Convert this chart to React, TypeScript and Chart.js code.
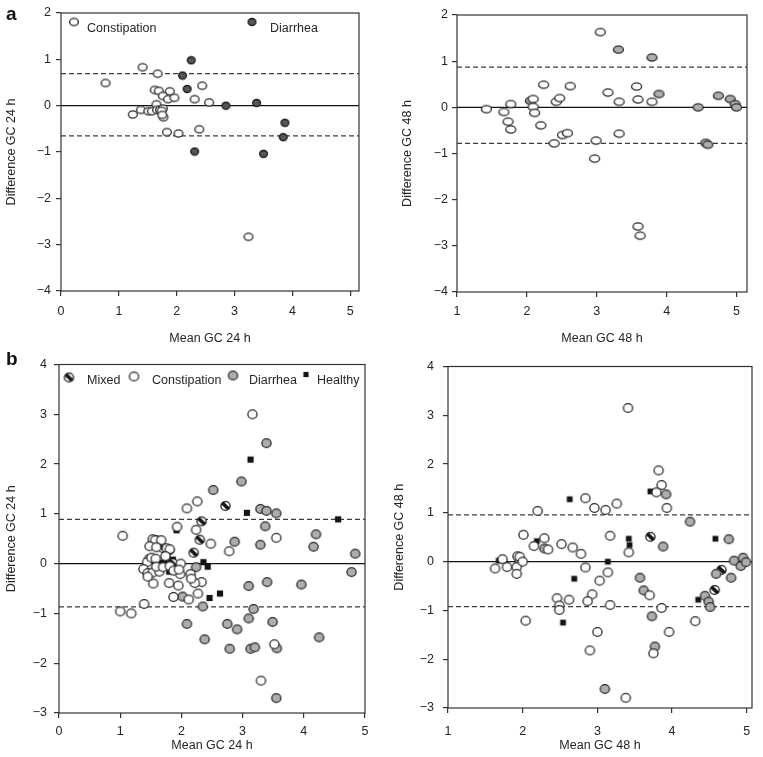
import React, { useEffect, useRef } from 'react';
import { Chart, registerables } from 'chart.js';
Chart.register(...registerables);

type Pt = [number, number];

// ---- tick labels ----
const xTicks24 = [0, 1, 2, 3, 4, 5];
const xTicks48 = [1, 2, 3, 4, 5];
const yTicksA = [-4, -3, -2, -1, 0, 1, 2];
const yTicksB = [-3, -2, -1, 0, 1, 2, 3, 4];

// ---- panel a, 24 h ----
const a24Constipation: Pt[] = [
  [0.77, 0.49], [1.41, 0.83], [1.67, 0.69], [1.62, 0.34], [1.69, 0.32], [1.88, 0.31], [1.76, 0.21],
  [1.85, 0.14], [1.96, 0.17], [2.31, 0.14], [2.44, 0.43], [2.56, 0.07], [1.65, 0.03], [1.24, -0.19],
  [1.38, -0.09], [1.51, -0.12], [1.57, -0.12], [1.66, -0.09], [1.71, -0.09], [1.76, -0.06], [1.74, -0.11],
  [1.77, -0.25], [1.75, -0.2], [1.83, -0.57], [2.03, -0.6], [2.39, -0.51], [3.24, -2.83],
];
const a24Diarrhea: Pt[] = [
  [2.25, 0.98], [2.1, 0.65], [2.18, 0.36], [2.85, 0.0], [3.38, 0.06], [3.87, -0.37], [3.84, -0.68],
  [2.31, -0.99], [3.5, -1.04],
];
const a24Limits = [0.69, -0.65];

// ---- panel a, 48 h ----
const a48Constipation: Pt[] = [
  [1.42, -0.04], [1.67, -0.1], [1.77, 0.07], [1.73, -0.31], [1.77, -0.48], [2.09, 0.18], [2.09, 0.01],
  [2.11, -0.12], [2.2, -0.39], [2.24, 0.49], [2.42, 0.12], [2.47, 0.2], [2.62, 0.46], [2.39, -0.78],
  [2.51, -0.6], [2.58, -0.56], [2.99, -0.72], [2.97, -1.11], [3.05, 1.63], [3.16, 0.32], [3.32, 0.12],
  [3.32, -0.57], [3.57, 0.45], [3.59, 0.17], [3.79, 0.12], [3.59, -2.58], [3.62, -2.78],
];
const a48Diarrhea: Pt[] = [
  [2.05, 0.14], [3.31, 1.25], [3.79, 1.08], [3.89, 0.29], [4.45, 0.0], [4.74, 0.25], [4.91, 0.18],
  [4.98, 0.07], [5.0, 0.0], [4.56, -0.77], [4.59, -0.81],
];
const a48Limits = [0.87, -0.78];

// ---- panel b, 24 h ----
const b24Constipation: Pt[] = [
  [3.16, 3.0], [2.26, 1.25], [2.09, 1.11], [1.93, 0.74], [2.24, 0.68], [1.04, 0.56], [2.48, 0.4],
  [2.78, 0.25], [3.55, 0.52], [1.0, -0.96], [1.18, -1.0], [1.39, -0.81], [1.54, -0.4], [1.8, -0.39],
  [1.87, -0.67], [1.95, -0.44], [2.12, -0.72], [2.27, -0.6], [2.33, -0.37], [2.22, -0.39], [2.15, -0.21],
  [2.16, -0.3], [1.99, 0.0], [1.98, -0.21], [3.3, -2.35], [3.52, -1.62], [1.53, 0.49], [1.57, 0.47],
  [1.67, 0.47], [1.48, 0.35], [1.59, 0.33], [1.76, 0.31], [1.81, 0.29], [1.47, 0.09], [1.44, 0.03],
  [1.51, 0.12], [1.58, 0.1], [1.38, -0.11], [1.45, -0.19], [1.53, -0.18], [1.64, -0.16], [1.59, -0.06],
  [1.7, -0.07], [1.81, -0.05], [1.87, -0.14], [1.96, -0.12], [1.45, -0.26], [1.74, 0.15],
];
const b24Diarrhea: Pt[] = [
  [3.39, 2.42], [2.98, 1.65], [2.52, 1.48], [3.29, 1.1], [3.39, 1.06], [3.55, 1.01], [3.37, 0.75],
  [2.87, 0.44], [3.29, 0.38], [4.2, 0.59], [4.16, 0.34], [4.84, 0.2], [4.78, -0.17], [3.96, -0.42],
  [3.4, -0.37], [3.1, -0.45], [2.24, -0.07], [2.02, -0.66], [2.35, -0.86], [3.18, -0.91], [3.1, -1.1],
  [3.49, -1.17], [2.09, -1.21], [2.75, -1.21], [2.91, -1.32], [2.38, -1.52], [4.25, -1.48], [2.79, -1.71],
  [3.13, -1.71], [3.2, -1.68], [3.56, -1.7], [3.55, -2.7],
];
const b24Mixed: Pt[] = [
  [2.72, 1.16], [2.33, 0.85], [2.3, 0.48], [2.2, 0.22], [1.59, 0.47], [1.7, 0.31], [1.8, 0.27], [1.86, 0.01],
];
const b24Healthy: Pt[] = [
  [3.13, 2.09], [3.07, 1.02], [4.56, 0.89], [1.92, 0.67], [2.36, 0.03], [2.43, -0.06], [2.63, -0.6],
  [2.46, -0.69], [1.59, -0.03], [1.68, 0.02], [1.75, 0.04], [1.86, 0.08], [1.8, -0.16], [1.66, 0.38],
  [1.73, 0.28],
];
const b24Limits = [0.89, -0.87];

// ---- panel b, 48 h ----
const b48Constipation: Pt[] = [
  [3.41, 3.15], [3.82, 1.87], [3.86, 1.57], [3.79, 1.42], [3.93, 1.1], [2.84, 1.3], [2.96, 1.1],
  [3.11, 1.06], [3.26, 1.19], [2.2, 1.04], [2.01, 0.55], [2.15, 0.32], [2.29, 0.48], [2.34, 0.25],
  [2.52, 0.36], [2.67, 0.29], [2.78, 0.16], [3.17, 0.53], [3.42, 0.19], [1.73, 0.05], [1.63, -0.14],
  [1.79, -0.11], [1.93, 0.11], [1.96, 0.1], [1.92, -0.11], [1.92, -0.25], [2.0, 0.0], [2.84, -0.12],
  [3.14, -0.22], [3.03, -0.39], [2.93, -0.67], [2.87, -0.81], [3.17, -0.89], [2.62, -0.78], [2.46, -0.75],
  [2.49, -0.9], [2.49, -0.99], [2.04, -1.21], [3.0, -1.44], [2.9, -1.82], [3.7, -0.69], [3.86, -0.95],
  [3.96, -1.44], [3.75, -1.88], [4.31, -1.22], [3.38, -2.79],
];
const b48Diarrhea: Pt[] = [
  [3.92, 1.38], [4.24, 0.82], [3.88, 0.31], [2.29, 0.27], [4.76, 0.46], [4.83, 0.02], [4.95, 0.08],
  [4.92, -0.09], [4.99, -0.01], [4.59, -0.25], [4.79, -0.33], [3.57, -0.33], [3.62, -0.59], [3.73, -1.12],
  [3.77, -1.74], [3.1, -2.61], [4.44, -0.7], [4.49, -0.82], [4.51, -0.93],
];
const b48Mixed: Pt[] = [[3.71, 0.51], [4.66, -0.17], [4.57, -0.58], [1.96, 0.02]];
const b48Healthy: Pt[] = [
  [1.68, 0.02], [2.19, 0.42], [2.63, 1.28], [2.69, -0.35], [2.54, -1.25], [3.14, 0.0], [3.42, 0.47],
  [3.43, 0.34], [3.71, 1.44], [4.58, 0.47], [4.35, -0.78],
];
const b48Limits = [0.96, -0.92];

// ---- rendering ----
type Kind = 'open' | 'dark' | 'grey' | 'mixed' | 'square';
const FONT = '"Liberation Sans", Arial, Helvetica, sans-serif';
const TEXT = '#262626';

function makeMarker(kind: Kind, rx: number, ry: number): HTMLCanvasElement {
  const c = document.createElement('canvas');
  const w = Math.ceil(rx * 2 + 3);
  const h = Math.ceil(ry * 2 + 3);
  c.width = w;
  c.height = h;
  const g = c.getContext('2d')!;
  const cx = w / 2;
  const cy = h / 2;
  if (kind === 'square') {
    g.fillStyle = '#141414';
    g.fillRect(cx - rx, cy - ry, rx * 2, ry * 2);
    return c;
  }
  g.beginPath();
  g.ellipse(cx, cy, rx, ry, 0, 0, Math.PI * 2);
  g.fillStyle = kind === 'dark' ? '#575757' : kind === 'grey' ? '#adadad' : '#ffffff';
  g.fill();
  if (kind === 'mixed') {
    g.save();
    g.clip();
    g.strokeStyle = '#141414';
    g.lineWidth = 3.6;
    g.beginPath();
    g.moveTo(cx - rx, cy - ry);
    g.lineTo(cx + rx, cy + ry);
    g.stroke();
    g.restore();
  }
  g.beginPath();
  g.ellipse(cx, cy, rx, ry, 0, 0, Math.PI * 2);
  g.strokeStyle = kind === 'dark' || kind === 'mixed' ? '#1a1a1a' : '#2a2a2a';
  g.lineWidth = 1.3;
  g.stroke();
  return c;
}

interface Series { pts: Pt[]; kind: Kind; rx: number; ry: number }
interface LegendItem { kind: Kind; rx: number; ry: number; mx: number; my: number; text: string; tx: number; ty: number }
interface PanelProps {
  left: number; top: number; width: number; height: number;
  pad: { left: number; right: number; top: number; bottom: number };
  yWidth: number; xHeight: number;
  xMin: number; xMax: number; yMin: number; yMax: number;
  xTicks: number[]; yTicks: number[];
  xTitle: string; yTitle: string;
  xTickPad: number; yTickPad: number;
  series: Series[]; limits: number[];
  legend?: LegendItem[];
}

function Panel(p: PanelProps) {
  const ref = useRef<HTMLCanvasElement | null>(null);
  useEffect(() => {
    if (!ref.current) return;
    const lineDs = (y: number, dashed: boolean) => ({
      data: [{ x: p.xMin, y }, { x: p.xMax, y }],
      showLine: true,
      pointRadius: 0,
      borderColor: dashed ? '#3c3c3c' : '#111111',
      borderWidth: dashed ? 1.2 : 1.3,
      borderDash: dashed ? [5, 3] : [],
      fill: false,
      order: 10,
    });
    const datasets: any[] = [
      ...p.series.map((s) => ({
        data: s.pts.map(([x, y]) => ({ x, y })),
        pointStyle: makeMarker(s.kind, s.rx, s.ry),
        pointRadius: 4,
        showLine: false,
        order: 0,
      })),
      lineDs(0, false),
      ...p.limits.map((v) => lineDs(v, true)),
    ];
    const legendMarkers = (p.legend || []).map((l) => makeMarker(l.kind, l.rx, l.ry));
    const frame = {
      id: 'frame',
      afterDatasetsDraw(chart: any) {
        const { ctx, chartArea: a } = chart;
        ctx.save();
        ctx.strokeStyle = '#333333';
        ctx.lineWidth = 1.2;
        ctx.strokeRect(a.left, a.top, a.right - a.left, a.bottom - a.top);
        ctx.restore();
      },
      afterDraw(chart: any) {
        const { ctx, chartArea: a } = chart;
        ctx.save();
        ctx.font = `12.5px ${FONT}`;
        ctx.fillStyle = TEXT;
        ctx.textBaseline = 'middle';
        ctx.textAlign = 'left';
        (p.legend || []).forEach((l, i) => {
          const m = legendMarkers[i];
          ctx.drawImage(m, a.left + l.mx - m.width / 2, a.top + l.my - m.height / 2);
          ctx.fillText(l.text, a.left + l.tx, a.top + l.ty);
        });
        ctx.restore();
      },
    };
    const tickFont = { family: FONT, size: 12.5 };
    const grid = {
      display: true,
      drawOnChartArea: false,
      drawTicks: true,
      tickLength: 5,
      color: '#333333',
      lineWidth: 1.2,
    };
    const chart = new Chart(ref.current, {
      type: 'scatter',
      data: { datasets },
      options: {
        animation: false,
        responsive: false,
        maintainAspectRatio: false,
        events: [],
        layout: { padding: p.pad },
        plugins: { legend: { display: false }, tooltip: { enabled: false } },
        scales: {
          x: {
            type: 'linear',
            min: p.xMin,
            max: p.xMax,
            afterBuildTicks: (s: any) => { s.ticks = p.xTicks.map((v) => ({ value: v })); },
            afterFit: (s: any) => { s.height = p.xHeight; },
            ticks: { font: tickFont, color: TEXT, padding: p.xTickPad, maxRotation: 0, autoSkip: false },
            grid,
            border: { display: false },
            title: { display: true, text: p.xTitle, font: tickFont, color: TEXT, padding: { top: 4, bottom: 4 } },
          },
          y: {
            type: 'linear',
            min: p.yMin,
            max: p.yMax,
            afterBuildTicks: (s: any) => { s.ticks = p.yTicks.map((v) => ({ value: v })); },
            afterFit: (s: any) => { s.width = p.yWidth; },
            ticks: {
              font: tickFont,
              color: TEXT,
              padding: p.yTickPad,
              autoSkip: false,
              callback: (v: any) => (Number(v) < 0 ? '\u2212' + Math.abs(Number(v)) : String(v)),
            },
            grid,
            border: { display: false },
            title: { display: true, text: p.yTitle, font: tickFont, color: TEXT, padding: { top: 4, bottom: 4 } },
          },
        },
      } as any,
      plugins: [frame],
    });
    return () => chart.destroy();
  }, []);
  return (
    <canvas
      ref={ref}
      width={p.width}
      height={p.height}
      style={{ position: 'absolute', left: p.left, top: p.top, width: p.width, height: p.height }}
    />
  );
}

export default function App() {
  const aO = { rx: 4.4, ry: 3.7 };
  const aD = { rx: 3.9, ry: 3.5 };
  const a2 = { rx: 5.0, ry: 3.6 };
  const bC = { rx: 4.6, ry: 4.4 };
  const bS = { rx: 3.1, ry: 3.1 };
  return (
    <div style={{ position: 'absolute', left: 0, top: 0, width: 763, height: 757, background: '#fff', overflow: 'hidden' }}>
      <Panel
        left={0} top={0} width={380} height={350}
        pad={{ left: 0, right: 21, top: 13, bottom: 0 }} yWidth={61} xHeight={59}
        xMin={0} xMax={5.15} yMin={-4} yMax={2} xTicks={xTicks24} yTicks={yTicksA}
        xTitle="Mean GC 24 h" yTitle="Difference GC 24 h" xTickPad={8} yTickPad={5}
        series={[
          { pts: a24Constipation, kind: 'open', ...aO },
          { pts: a24Diarrhea, kind: 'dark', ...aD },
        ]}
        limits={a24Limits}
        legend={[
          { kind: 'open', ...aO, mx: 13, my: 9, text: 'Constipation', tx: 26, ty: 16 },
          { kind: 'dark', ...aD, mx: 191, my: 9, text: 'Diarrhea', tx: 209, ty: 16 },
        ]}
      />
      <Panel
        left={380} top={0} width={383} height={350}
        pad={{ left: 16, right: 16, top: 15, bottom: 0 }} yWidth={61} xHeight={58}
        xMin={1} xMax={5.15} yMin={-4} yMax={2} xTicks={xTicks48} yTicks={yTicksA}
        xTitle="Mean GC 48 h" yTitle="Difference GC 48 h" xTickPad={7} yTickPad={4}
        series={[
          { pts: a48Constipation, kind: 'open', ...a2 },
          { pts: a48Diarrhea, kind: 'grey', ...a2 },
        ]}
        limits={a48Limits}
      />
      <Panel
        left={0} top={350} width={380} height={407}
        pad={{ left: 0, right: 15, top: 7, bottom: 0 }} yWidth={59} xHeight={44}
        xMin={0} xMax={5} yMin={-3} yMax={4} xTicks={xTicks24} yTicks={yTicksB}
        xTitle="Mean GC 24 h" yTitle="Difference GC 24 h" xTickPad={6} yTickPad={7}
        series={[
          { pts: b24Constipation, kind: 'open', ...bC },
          { pts: b24Diarrhea, kind: 'grey', ...bC },
          { pts: b24Mixed, kind: 'mixed', ...bC },
          { pts: b24Healthy, kind: 'square', ...bS },
        ]}
        limits={b24Limits}
        legend={[
          { kind: 'mixed', ...bC, mx: 10, my: 13, text: 'Mixed', tx: 28, ty: 16 },
          { kind: 'open', ...bC, mx: 75, my: 12, text: 'Constipation', tx: 93, ty: 16 },
          { kind: 'grey', ...bC, mx: 174, my: 11, text: 'Diarrhea', tx: 190, ty: 16 },
          { kind: 'square', rx: 2.6, ry: 2.6, mx: 247, my: 10, text: 'Healthy', tx: 258, ty: 16 },
        ]}
      />
      <Panel
        left={380} top={350} width={383} height={407}
        pad={{ left: 8, right: 11, top: 9, bottom: 0 }} yWidth={60} xHeight={49}
        xMin={1} xMax={5.07} yMin={-3} yMax={4} xTicks={xTicks48} yTicks={yTicksB}
        xTitle="Mean GC 48 h" yTitle="Difference GC 48 h" xTickPad={11} yTickPad={9}
        series={[
          { pts: b48Constipation, kind: 'open', ...bC },
          { pts: b48Diarrhea, kind: 'grey', ...bC },
          { pts: b48Mixed, kind: 'mixed', ...bC },
          { pts: b48Healthy, kind: 'square', rx: 2.9, ry: 2.9 },
        ]}
        limits={b48Limits}
      />
      <div style={{ position: 'absolute', left: 6, top: 4, font: `bold 19px ${FONT}`, lineHeight: '19px', color: '#111' }}>a</div>
      <div style={{ position: 'absolute', left: 6, top: 349, font: `bold 19px ${FONT}`, lineHeight: '19px', color: '#111' }}>b</div>
    </div>
  );
}
